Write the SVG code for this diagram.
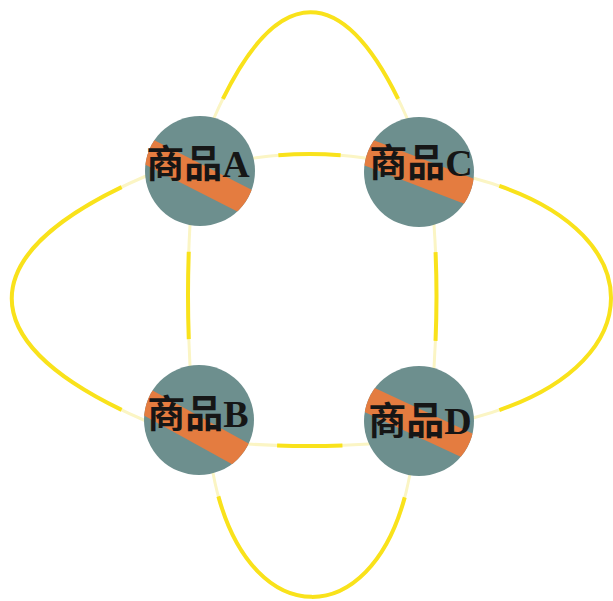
<svg xmlns="http://www.w3.org/2000/svg" width="613" height="601" viewBox="0 0 613 601">
<style>
.pale{fill:none;stroke:#fbf5c4;stroke-width:3;stroke-linecap:round}
.bright{fill:none;stroke:#f9e21b;stroke-width:4;stroke-linecap:butt}
.disc{fill:#6d8f8e}
.band{fill:#e47c40}
.lbl{font-family:"Liberation Serif","Noto Sans CJK SC",serif;font-weight:bold;font-size:38px;fill:#161616;text-anchor:middle}
</style>
<defs>
<clipPath id="disc" clipPathUnits="userSpaceOnUse"><circle cx="0" cy="0" r="55"/></clipPath>
</defs>
<rect width="613" height="601" fill="#ffffff"/>
<g id="connectors">
<g id="e-AC-arc">
<path class="pale" d="M214,118 C276,-23 345,-23 407,118"/>
<path class="bright" pathLength="100" stroke-dasharray="0 7 86 100" d="M214,118 C276,-23 345,-23 407,118"/>
</g>
<g id="e-AB-arc">
<path class="pale" d="M146,176 C-33,253 -33,344 146,421"/>
<path class="bright" pathLength="100" stroke-dasharray="0 7 86 100" d="M146,176 C-33,253 -33,344 146,421"/>
</g>
<g id="e-CD-arc">
<path class="pale" d="M473,178 C657,226 657,370 473,418"/>
<path class="bright" pathLength="100" stroke-dasharray="0 7 86 100" d="M473,178 C657,226 657,370 473,418"/>
</g>
<g id="e-BD-arc">
<path class="pale" d="M213,473 C244,638 380,638 410,474"/>
<path class="bright" pathLength="100" stroke-dasharray="0 7 86 100" d="M213,473 C244,638 380,638 410,474"/>
</g>
<g id="e-AC">
<path class="pale" d="M254,158 Q310,150 365,158"/>
<path class="bright" pathLength="100" stroke-dasharray="0 22 56 100" d="M254,158 Q310,150 365,158"/>
</g>
<g id="e-BD">
<path class="pale" d="M248,444 Q309,448 369,444"/>
<path class="bright" pathLength="100" stroke-dasharray="0 24 54 100" d="M248,444 Q309,448 369,444"/>
</g>
<g id="e-AB">
<path class="pale" d="M190,225 Q186,295 190,366"/>
<path class="bright" pathLength="100" stroke-dasharray="0 19 62 100" d="M190,225 Q186,295 190,366"/>
</g>
<g id="e-CD">
<path class="pale" d="M434,225 Q439,296 434,368"/>
<path class="bright" pathLength="100" stroke-dasharray="0 19 62 100" d="M434,225 Q439,296 434,368"/>
</g>
</g>
<g id="node-A">
<g transform="translate(200,171)">
<circle class="disc" r="55"/>
<g clip-path="url(#disc)"><rect class="band" x="-90" y="-13" width="180" height="26" transform="translate(0,7) rotate(27)"/></g>
</g>
<text class="lbl" x="198" y="177">商品A</text>
</g>
<g id="node-C">
<g transform="translate(419,172)">
<circle class="disc" r="55"/>
<g clip-path="url(#disc)"><rect class="band" x="-90" y="-13.5" width="180" height="27" transform="translate(0,0) rotate(21)"/></g>
</g>
<text class="lbl" x="421" y="176">商品C</text>
</g>
<g id="node-B">
<g transform="translate(199,420)">
<circle class="disc" r="55"/>
<g clip-path="url(#disc)"><rect class="band" x="-90" y="-13" width="180" height="26" transform="translate(0,11) rotate(29)"/></g>
</g>
<text class="lbl" x="198" y="427">商品B</text>
</g>
<g id="node-D">
<g transform="translate(419,421)">
<circle class="disc" r="55"/>
<g clip-path="url(#disc)"><rect class="band" x="-90" y="-13" width="180" height="26" transform="translate(0,2) rotate(25)"/></g>
</g>
<text class="lbl" x="420" y="434">商品D</text>
</g>
</svg>
